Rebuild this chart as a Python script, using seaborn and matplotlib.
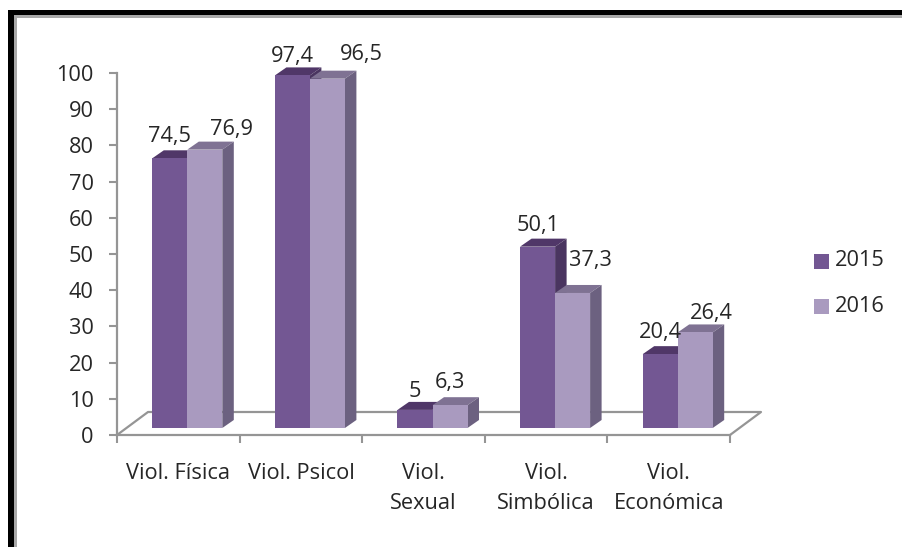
import numpy as np
import pandas as pd
import matplotlib
matplotlib.use('Agg')
import matplotlib.pyplot as plt
from matplotlib.patches import Polygon, Rectangle
import seaborn as sns

categories = ['Viol. Física', 'Viol. Psicol', 'Viol.\nSexual', 'Viol.\nSimbólica', 'Viol.\nEconómica']
values_2015 = [74.5, 97.4, 5, 50.1, 20.4]
values_2016 = [76.9, 96.5, 6.3, 37.3, 26.4]
labels_2015 = ['74,5', '97,4', '5', '50,1', '20,4']
labels_2016 = ['76,9', '96,5', '6,3', '37,3', '26,4']
years = ['2015', '2016']

W, H = 902, 547
FRONT = {'2015': '#735793', '2016': '#A99ABF'}
TOP = {'2015': '#503768', '2016': '#7F7293'}
SIDE = {'2015': '#4A3560', '2016': '#6C6180'}
GREY = '#959595'
TEXT = '#262626'
FS = 15.7

# hand placed data labels in the original, pixels from the bar's top centre
label_dx = [0, 0, 0, 0, 0, 27, 34, 0, 18, 16]
label_dy = [13.5, 10.5, 10.5, 13.5, 13.5, 12.5, 16.5, 14.5, 24.5, 10.5]

sns.set_theme(style='white')
plt.rcParams['font.family'] = ['Open Sans', 'DejaVu Sans']

df = pd.DataFrame({
    'cat': categories * 2,
    'value': values_2015 + values_2016,
    'year': ['2015'] * 5 + ['2016'] * 5,
})

fig = plt.figure(figsize=(W / 100, H / 100), dpi=100)
ax = fig.add_axes([117 / W, 1 - 435 / H, 613 / W, 362 / H])
sns.barplot(data=df, x='cat', y='value', hue='year', hue_order=years, palette=FRONT,
            width=0.571, gap=0, saturation=1, errorbar=None, legend=False, ax=ax, zorder=3)
ax.set_xlim(-0.5, 4.5)
ax.set_ylim(0, 100)
ax.set_xlabel('')
ax.set_ylabel('')

# pixel sizes of the fake 3d look
px_x = 5 / 613
px_y = 100 / 362
shift_x = 9 * px_x
base = 7 * px_y
dx = 11.5 * px_x
dy = 8 * px_y

bars = list(ax.patches)
all_labels = labels_2015 + labels_2016
for i, bar in enumerate(bars):
    year = years[i // 5]
    h = bar.get_height()
    bar.set_x(bar.get_x() + shift_x)
    bar.set_y(base)
    bar.set_linewidth(0)
    x0, x1 = bar.get_x(), bar.get_x() + bar.get_width()
    y0, y1 = base, base + h
    z = 1 + i // 5
    ax.add_patch(Polygon([(x0, y1), (x1, y1), (x1 + dx, y1 + dy), (x0 + dx, y1 + dy)],
                         fc=TOP[year], ec='none', zorder=z, clip_on=False))
    ax.add_patch(Polygon([(x1, y0), (x1 + dx, y0 + dy), (x1 + dx, y1 + dy), (x1, y1)],
                         fc=SIDE[year], ec='none', zorder=z, clip_on=False))
    ax.text((x0 + x1) / 2 + label_dx[i] * px_x, y1 + dy + label_dy[i] * px_y, all_labels[i],
            ha='center', va='center', fontsize=FS, color=TEXT, zorder=5)

# floor of the 3d box
floor_x = [-0.5, -0.5 + 31 * px_x, 4.5 + 31 * px_x, 4.5]
floor_y = [0, 23 * px_y, 23 * px_y, 0]
ax.plot(floor_x, floor_y, color=GREY, lw=1.6, clip_on=False, zorder=0.5)

sns.despine(ax=ax)
for s in ['left', 'bottom']:
    ax.spines[s].set_color(GREY)
    ax.spines[s].set_linewidth(1.6)
ax.set_yticks(range(0, 101, 10))
ax.set_xticks(np.arange(-0.5, 5), minor=True)
ax.tick_params(axis='y', length=5.8, width=1.5, color=GREY, labelsize=FS, labelcolor=TEXT, pad=11, left=True)
ax.tick_params(axis='x', which='major', length=0, labelsize=FS, labelcolor=TEXT, pad=20.5)
ax.tick_params(axis='x', which='minor', length=5.8, width=1.5, color=GREY, bottom=True)
for lab in ax.get_xticklabels():
    lab.set_linespacing(1.55)

# legend
for y_px, year in zip([261, 306], years):
    fig.patches.append(Rectangle((814 / W, 1 - (y_px + 7.5) / H), 15 / W, 15 / H, transform=fig.transFigure,
                                 fc=FRONT[year], ec='none'))
    fig.text(835 / W, 1 - y_px / H, year, fontsize=FS, color=TEXT, va='center', ha='left')

# black frame of the screenshot with its grey inner edge
fig.patches.append(Rectangle((14 / W, 0), 3 / W, 1 - 15 / H, transform=fig.transFigure, fc='#A8A8A8', ec='none'))
fig.patches.append(Rectangle((14 / W, 1 - 18 / H), 1 - 14 / W, 3 / H, transform=fig.transFigure, fc='#A8A8A8', ec='none'))
fig.patches.append(Rectangle((8 / W, 0), 6 / W, 1 - 10 / H, transform=fig.transFigure, fc='black', ec='none'))
fig.patches.append(Rectangle((8 / W, 1 - 15 / H), 1 - 8 / W, 5 / H, transform=fig.transFigure, fc='black', ec='none'))

fig.savefig('out.png', dpi=100)
